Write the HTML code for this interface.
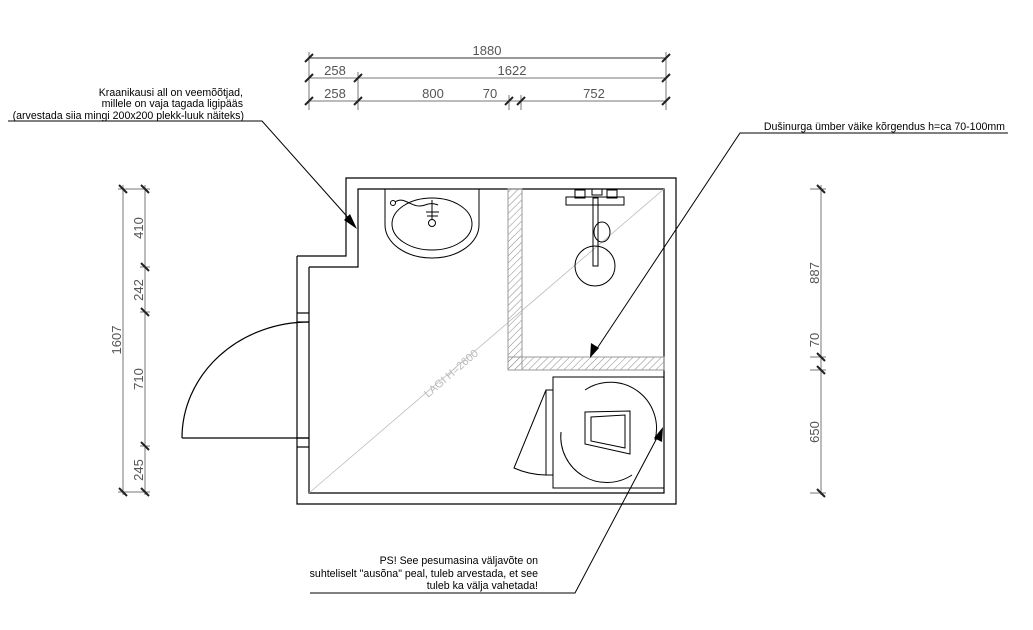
<!DOCTYPE html>
<html><head><style>body{margin:0;background:#fff}svg{display:block}</style></head><body>
<svg width="1033" height="630" viewBox="0 0 1033 630" xmlns="http://www.w3.org/2000/svg" font-family="Liberation Sans, sans-serif">
<defs>
<pattern id="h" width="5" height="5" patternUnits="userSpaceOnUse" patternTransform="rotate(45)"><line x1="0" y1="0" x2="0" y2="5" stroke="#888" stroke-width="1"/></pattern>
</defs>
<g fill="none" stroke="#000" stroke-width="1.2">
<polyline points="297,256 346,256 346,178 676,178 676,504 297,504 297,256"/>
<polyline points="309,267 358,267 358,189 664,189 664,493 309,493 309,267"/>
<line x1="297" y1="313" x2="309" y2="313"/><line x1="297" y1="322" x2="309" y2="322"/>
<line x1="297" y1="438" x2="309" y2="438"/><line x1="297" y1="447" x2="309" y2="447"/>
<line x1="182" y1="438" x2="309" y2="438"/>
<path d="M182,438 A127,116 0 0 1 309,322"/>
</g>
<line x1="309" y1="493" x2="664" y2="189" stroke="#bbb" stroke-width="0.8"/>
<text x="0" y="0" font-size="11" fill="#bbb" transform="translate(428,398) rotate(-40.6)">LAGI H=2600</text>
<rect x="508" y="189" width="14" height="181" fill="url(#h)" stroke="#999"/>
<rect x="508" y="357" width="156" height="13" fill="url(#h)" stroke="#999"/>
<g fill="none" stroke="#000" stroke-width="1">
<path d="M385,189 L385,225 A47,33 0 0 0 479,225 L479,189"/>
<ellipse cx="432" cy="224" rx="40" ry="26"/>
<circle cx="432" cy="223" r="3.5"/>
<line x1="432" y1="200" x2="432" y2="220"/><line x1="426" y1="212" x2="439" y2="212"/><line x1="427" y1="216" x2="438" y2="216"/>
<circle cx="393" cy="203" r="2.5"/>
<path d="M395,202 C405,195 412,210 425,205 C432,202 438,205 438,205"/>
<rect x="566" y="197" width="58" height="8"/>
<rect x="575" y="190" width="10" height="8"/><rect x="592" y="189" width="10" height="6"/><rect x="607" y="190" width="10" height="8"/>
<rect x="593" y="198" width="5" height="68"/>
<circle cx="595" cy="266" r="20"/>
<ellipse cx="602" cy="232" rx="8" ry="10"/>
<rect x="553" y="377" width="111" height="111"/>
<path d="M585,390 A46,46 0 0 1 655,440"/>
<path d="M561,432 A46,46 0 0 0 632,475"/>
<path d="M585,412 L630,411 L630,454 L585,444 Z"/>
<path d="M591,417 L625,415 L625,448 L591,441 Z"/>
<path d="M546,390 L553,390 L553,475 L546,475 Z"/>
<path d="M546,390 L514,468 A80,80 0 0 0 546,475"/>
</g>
<g stroke="#777" stroke-width="1">
<line x1="309" y1="58" x2="666" y2="58" stroke="#333"/>
<line x1="309" y1="78" x2="666" y2="78"/>
<line x1="309" y1="101" x2="666" y2="101"/>
<line x1="309" y1="52" x2="309" y2="110"/><line x1="358" y1="72" x2="358" y2="110"/><line x1="509" y1="95" x2="509" y2="110"/><line x1="521" y1="95" x2="521" y2="110"/><line x1="666" y1="52" x2="666" y2="110"/>
<line x1="123" y1="185" x2="123" y2="495"/><line x1="145" y1="185" x2="145" y2="495"/>
<line x1="821" y1="185" x2="821" y2="495"/>
<line x1="118" y1="189" x2="150" y2="189"/><line x1="140" y1="267" x2="150" y2="267"/><line x1="140" y1="312" x2="150" y2="312"/><line x1="140" y1="446" x2="150" y2="446"/><line x1="118" y1="492" x2="150" y2="492"/>
<line x1="810" y1="189" x2="826" y2="189"/><line x1="810" y1="357" x2="826" y2="357"/><line x1="810" y1="370" x2="826" y2="370"/><line x1="810" y1="493" x2="826" y2="493"/>
</g>
<g stroke="#222" stroke-width="2">
<path d="M305,62 l8,-8 M354,82 l8,-8 M354,105 l8,-8 M505,105 l8,-8 M517,105 l8,-8 M662,62 l8,-8 M662,82 l8,-8 M662,105 l8,-8 M305,82 l8,-8 M305,105 l8,-8"/>
<path d="M119,185 l8,8 M141,185 l8,8 M141,263 l8,8 M141,308 l8,8 M141,442 l8,8 M119,488 l8,8 M141,488 l8,8"/>
<path d="M817,185 l8,8 M817,353 l8,8 M817,366 l8,8 M817,489 l8,8"/>
</g>
<g font-size="13" fill="#555" text-anchor="middle">
<text x="487" y="55">1880</text>
<text x="335" y="75">258</text><text x="512" y="75">1622</text>
<text x="335" y="98">258</text><text x="433" y="98">800</text><text x="490" y="98">70</text><text x="594" y="98">752</text>
<text transform="translate(143,228) rotate(-90)">410</text>
<text transform="translate(143,290) rotate(-90)">242</text>
<text transform="translate(143,379) rotate(-90)">710</text>
<text transform="translate(143,470) rotate(-90)">245</text>
<text transform="translate(121,340) rotate(-90)">1607</text>
<text transform="translate(819,273) rotate(-90)">887</text>
<text transform="translate(819,340) rotate(-90)">70</text>
<text transform="translate(819,432) rotate(-90)">650</text>
</g>
<g stroke="#000" stroke-width="1" fill="none">
<polyline points="8,121 262,121 352,222"/>
<polyline points="1008,133 740,133 596,350"/>
<polyline points="310,593 575,593 658,436"/>
</g>
<g fill="#000">
<polygon points="357,229 344,220 350,214"/>
<polygon points="590,358 591,343 599,348"/>
<polygon points="663,427 662,442 654,438"/>
</g>
<g font-size="10.6" fill="#000" text-anchor="end">
<text x="243" y="96">Kraanikausi all on veemõõtjad,</text>
<text x="243" y="107">millele on vaja tagada ligipääs</text>
<text x="244" y="119">(arvestada siia mingi 200x200 plekk-luuk näiteks)</text>
<text x="1005" y="130">Dušinurga ümber väike kõrgendus h=ca 70-100mm</text>
<text x="538" y="564">PS! See pesumasina väljavõte on</text>
<text x="538" y="577">suhteliselt "ausõna" peal, tuleb arvestada, et see</text>
<text x="538" y="589">tuleb ka välja vahetada!</text>
</g>
</svg>
</body></html>
